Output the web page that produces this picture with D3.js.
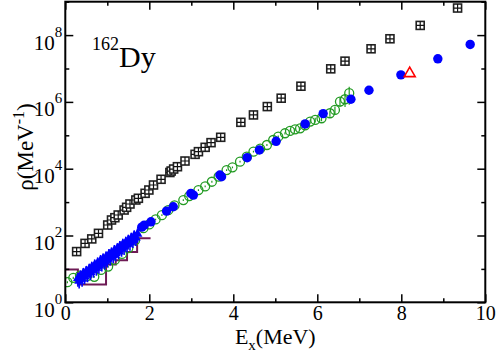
<!DOCTYPE html>
<html>
<head>
<meta charset="utf-8">
<script src="https://cdn.jsdelivr.net/npm/d3@7"></script>
<style>
body { margin: 0; background: #fff; }
text { font-family: "Liberation Serif", "Times New Roman", serif; fill: #000; }
</style>
</head>
<body>
<script>
const SvgWidth = 498, SvgHeight = 353;
var margin = {top: 1.7, right: 12.7, bottom: 50.7, left: 65.3};
var Width = SvgWidth - margin.left - margin.right;
var Height = SvgHeight - margin.top - margin.bottom;

// black crossed squares
var sqE = [0.27,0.47,0.63,0.79,1.01,1.10,1.18,1.26,1.40,1.46,1.54,1.68,1.74,1.90,1.99,2.10,2.28,2.49,2.52,2.58,2.67,2.85,3.09,3.17,3.33,3.47,3.70,4.18,4.48,4.81,5.14,5.61,6.32,6.66,7.28,7.73,8.45,9.34];
var sqRho = [33,58,79,116,206,291,341,411,579,698,877,1156,1300,1832,2301,3251,4819,7690,8511,9772,11480,16980,26920,32360,43650,60260,87100,2.45e5,4.07e5,7.24e5,1.29e6,2.95e6,9.77e6,1.66e7,3.89e7,7.76e7,1.95e8,6.46e8];

// green open circles
var grE = [0.05,0.19,0.35,0.52,0.69,0.85,1.02,1.18,1.35,1.50,1.66,1.86,2.00,2.15,2.30,2.45,2.60,2.81,2.95,3.17,3.33,3.49,3.65,3.84,3.98,4.16,4.32,4.48,4.64,4.80,4.95,5.07,5.23,5.35,5.47,5.59,5.71,5.83,5.95,6.10,6.30,6.42,6.54,6.66,6.76];
var grRho = [4.0,5.4,6.3,6.1,5.8,9.3,11.7,18.6,28,42,71,166,214,302,407,575,794,1148,1514,2291,2951,4074,5754,9120,10960,16220,22910,32360,39810,51290,72440,91200,1.15e5,1.35e5,1.51e5,1.62e5,2.0e5,2.57e5,2.88e5,3.24e5,4.57e5,5.75e5,1.02e6,1.20e6,1.82e6];
var grErr = [0.3,0.4,0.4,0.4,0.4,0.6,0.8,1.2,2,3,5,10,12,18,25,35,50,70,90,140,180,250,350,550,700,1000,1500,2000,2500,3500,5000,7000,9000,12000,15000,18000,25000,35000,45000,60000,1.0e5,1.5e5,3.0e5,5.0e5,1.0e6];

// blue triangles (low-energy cluster)
var btE = [0.30,0.33,0.36,0.40,0.43,0.46,0.50,0.53,0.57,0.60,0.63,0.67,0.70,0.74,0.77,0.80,0.84,0.87,0.90,0.94,0.97,1.00,1.04,1.07,1.10,1.14,1.17,1.20,1.24,1.27,1.30,1.34,1.37,1.40,1.44,1.47,1.50,1.54,1.57,1.61,1.64,1.68,1.72];
var btRho = [5.3,4.4,6.2,5.0,7.4,6.1,8.5,6.9,9.8,8.0,11.3,9.4,13.2,10.8,15.2,12.6,17.9,14.5,20.0,16.8,23.0,19.2,27.0,22.0,30.3,25.9,35.6,29.7,40.8,34.2,47.0,40.1,55.2,46.1,63.3,54.0,72.7,62.1,83.4,73.0,98.0,85.7,112];
var btErr = [2.4,1.8,2.8,2.1,3.3,2.6,3.8,2.9,4.4,3.4,5.1,4.0,5.9,4.6,6.8,5.4,8.0,6.2,9.0,7.2,10.3,8.2,12.1,9.4,13.6,11.1,16,12.7,18.3,14.6,21,17,25,20,28,23,32,27,37,31,44,37,50];

// blue filled circles
var bcE = [1.82,1.88,2.04,2.41,2.57,2.99,3.05,3.68,3.72,4.33,4.62,5.02,5.71,6.14,6.80,7.23,7.99,8.87,9.64];
var bcRho = [178,204,257,537,724,1820,1622,6457,5754,21380,36310,66070,2.19e5,4.47e5,1.20e6,2.24e6,6.46e6,1.95e7,5.25e7];

// red open triangle
var rtE = [8.20];
var rtRho = [7.8e6];

// discrete-level histogram (step line)
var stepEdges = [0, 0.30, 0.97, 1.20, 1.47, 1.71, 2.03];
var stepRho = [9.6, 3.4, 13.5, 18, 32, 83];

var xTicks = [0,2,4,6,8,10];
var xMinor = [1,3,5,7,9];
var yTicks = [1,1e2,1e4,1e6,1e8];
var yExp = ["0","2","4","6","8"];
var yMinor = [10,1e3,1e5,1e7,1e9];

var svg = d3.select('body')
			.append('svg')
			.attr('width',SvgWidth)
			.attr('height',SvgHeight)
			.style('background-color','white');
var g = svg.append('g')
			.attr("transform",'translate('+margin.left+","+margin.top+")");

var x = d3.scaleLinear().domain([0,10]).range([0,Width]),
	y = d3.scaleLog().domain([1,1e9]).range([Height,0]);

svg.append("defs").append("clipPath").attr("id","plotclip")
	.append("rect").attr("width",Width).attr("height",Height);
var plot = g.append("g").attr("clip-path","url(#plotclip)");

// step histogram
var stepPts = [];
stepRho.forEach(function(v,i){
	stepPts.push([stepEdges[i], v]);
	stepPts.push([stepEdges[i+1], v]);
});
plot.append("path")
	.datum(stepPts)
	.attr("fill","none")
	.attr("stroke","#6e1a55")
	.attr("stroke-width",2)
	.attr("d", d3.line().x(function(d){ return x(d[0]); }).y(function(d){ return y(d[1]); }));

// black squares
var sq = plot.selectAll(".sq")
	.data(sqE)
	.enter().append("g")
	.attr("class","sq")
	.attr("transform", function(d,i){ return "translate("+x(d)+","+y(sqRho[i])+")"; });
sq.append("rect").attr("x",-4).attr("y",-4).attr("width",8).attr("height",8)
	.attr("fill","#fff").attr("stroke","#222").attr("stroke-width",1.6);
sq.append("path").attr("d","M-4,0H4M0,-4V4").attr("stroke","#111").attr("stroke-width",1.2);

// green error bars + circles
plot.selectAll(".gerr")
	.data(grE)
	.enter().append("line")
	.attr("stroke","#239b23").attr("stroke-width",1.2)
	.attr("x1", function(d){ return x(d); }).attr("x2", function(d){ return x(d); })
	.attr("y1", function(d,i){ return y(Math.max(grRho[i]-grErr[i], 1e-3)); })
	.attr("y2", function(d,i){ return y(grRho[i]+grErr[i]); });
plot.selectAll(".gr")
	.data(grE)
	.enter().append("circle")
	.attr("cx", function(d){ return x(d); })
	.attr("cy", function(d,i){ return y(grRho[i]); })
	.attr("r",4.5)
	.attr("fill","none")
	.attr("stroke","#239b23")
	.attr("stroke-width",1.3);

// blue triangles with error bars
plot.selectAll(".berr")
	.data(btE)
	.enter().append("line")
	.attr("stroke","#0000ff").attr("stroke-width",1.6)
	.attr("x1", function(d){ return x(d); }).attr("x2", function(d){ return x(d); })
	.attr("y1", function(d,i){ return y(btRho[i]-btErr[i]); })
	.attr("y2", function(d,i){ return y(btRho[i]+btErr[i]); });
plot.selectAll(".bt")
	.data(btE)
	.enter().append("path")
	.attr("d", d3.symbol().type(d3.symbolTriangle).size(42))
	.attr("transform", function(d,i){ return "translate("+x(d)+","+y(btRho[i])+")"; })
	.attr("fill","#0000ff");

// blue circles
plot.selectAll(".bc")
	.data(bcE)
	.enter().append("circle")
	.attr("cx", function(d){ return x(d); })
	.attr("cy", function(d,i){ return y(bcRho[i]); })
	.attr("r",4.7)
	.attr("fill","#0000ff");

// red triangle
plot.selectAll(".rt")
	.data(rtE)
	.enter().append("path")
	.attr("d","M0,-5L5.5,4.5L-5.5,4.5Z")
	.attr("transform", function(d,i){ return "translate("+x(d)+","+y(rtRho[i])+")"; })
	.attr("fill","none")
	.attr("stroke","#ff0000")
	.attr("stroke-width",1.6);

// axes: inward ticks on all four sides
function styleAxis(sel){
	sel.select(".domain").remove();
	sel.selectAll("line").attr("stroke","#000").attr("stroke-width",1.5);
}
g.append("g").attr("transform","translate(0,"+Height+")")
	.call(d3.axisBottom(x).tickValues(xTicks).tickSizeInner(-8).tickSizeOuter(0).tickPadding(4).tickFormat(d3.format("d")))
	.call(styleAxis)
	.selectAll("text").attr("font-size",20).attr("font-family","Liberation Serif");
g.append("g").attr("transform","translate(0,"+Height+")")
	.call(d3.axisBottom(x).tickValues(xMinor).tickSizeInner(-4).tickSizeOuter(0).tickFormat(""))
	.call(styleAxis);
g.append("g")
	.call(d3.axisTop(x).tickValues(xTicks).tickSizeInner(-8).tickSizeOuter(0).tickFormat(""))
	.call(styleAxis);
g.append("g")
	.call(d3.axisTop(x).tickValues(xMinor).tickSizeInner(-4).tickSizeOuter(0).tickFormat(""))
	.call(styleAxis);

var yl = g.append("g")
	.call(d3.axisLeft(y).tickValues(yTicks).tickSizeInner(-8).tickSizeOuter(0).tickPadding(3).tickFormat(""))
	.call(styleAxis);
yl.selectAll(".tick text").each(function(d,i){
	var t = d3.select(this).attr("dy",null).attr("y",14).attr("font-family","Liberation Serif");
	t.append("tspan").attr("font-size",21).text("10");
	t.append("tspan").attr("font-size",15).attr("dy",-13).text(yExp[i]);
});
g.append("g")
	.call(d3.axisLeft(y).tickValues(yMinor).tickSizeInner(-4).tickSizeOuter(0).tickFormat(""))
	.call(styleAxis);
g.append("g").attr("transform","translate("+Width+",0)")
	.call(d3.axisRight(y).tickValues(yTicks).tickSizeInner(-8).tickSizeOuter(0).tickFormat(""))
	.call(styleAxis);
g.append("g").attr("transform","translate("+Width+",0)")
	.call(d3.axisRight(y).tickValues(yMinor).tickSizeInner(-4).tickSizeOuter(0).tickFormat(""))
	.call(styleAxis);

// frame
g.append("rect")
	.attr("width",Width).attr("height",Height)
	.attr("fill","none").attr("stroke","#000").attr("stroke-width",2);

// axis titles
var xt = svg.append("text")
	.attr("x", margin.left + Width/2)
	.attr("y", 344)
	.attr("text-anchor","middle")
	.attr("font-size",22);
xt.append("tspan").text("E");
xt.append("tspan").attr("font-size",15).attr("dy",6).text("x");
xt.append("tspan").attr("dy",-6).text("(MeV)");

var yt = svg.append("text")
	.attr("transform","translate(33,147) rotate(-90)")
	.attr("text-anchor","middle")
	.attr("font-size",23);
yt.append("tspan").text("\u03c1(MeV");
yt.append("tspan").attr("font-size",16).attr("dy",-9).text("-1");
yt.append("tspan").attr("dy",9).text(")");

// nucleus label
var lab = svg.append("text").attr("x",92).attr("y",67);
lab.append("tspan").attr("font-size",18).attr("dy",-17).text("162");
lab.append("tspan").attr("font-size",30).attr("dy",17).text("Dy");
</script>
</body>
</html>
